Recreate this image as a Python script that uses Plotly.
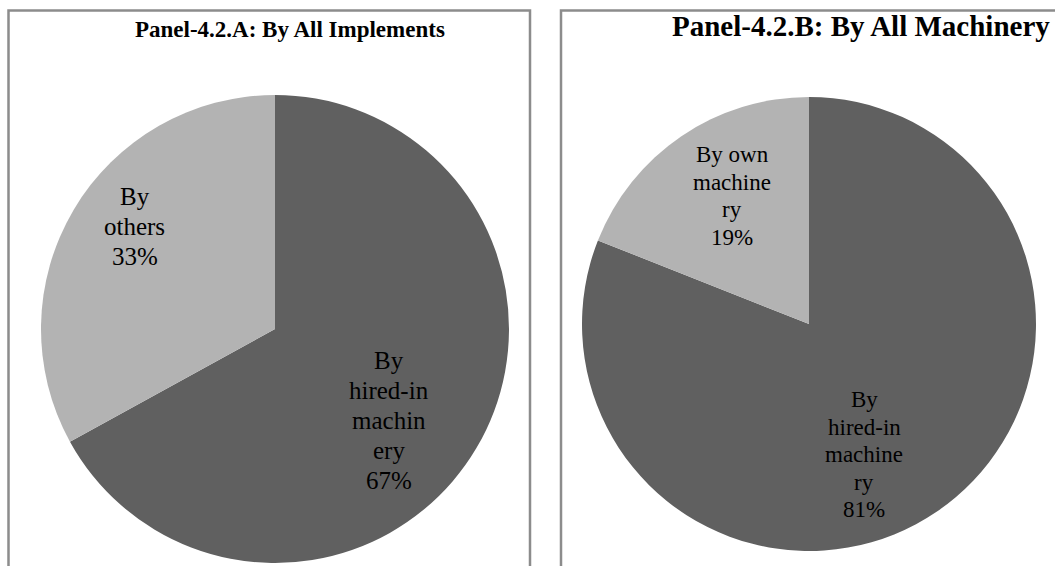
import math
import plotly.graph_objects as go

W, H = 1055, 566

# ---- data ----
panel_titles = ["Panel-4.2.A: By All Implements", "Panel-4.2.B: By All Machinery"]
labels_a = ["By<br>hired-in<br>machin<br>ery", "By<br>others"]
values_a = [67, 33]
labels_b = ["By<br>hired-in<br>machine<br>ry", "By own<br>machine<br>ry"]
values_b = [81, 19]

colors = ["#606060", "#b3b3b3"]
FONT = "Liberation Serif"

# ---- layout params (pixels) ----
pie_boxes = [  # x0, x1, ytop, ybottom in pixels
    (41, 509, 95, 563),
    (582, 1036, 97, 551),
]
label_frac = [[0.626, 0.743], [0.626, 0.658]]
label_shift = [[8.3, 5.7], [11.4, 3.2]]
label_size = [25, 23]
line_gap = [30, 27.5]

fig = go.Figure()
annotations = []
for k, (labs, vals) in enumerate([(labels_a, values_a), (labels_b, values_b)]):
    x0, x1, yt, yb = pie_boxes[k]
    fig.add_trace(go.Pie(
        labels=[l.replace("<br>", " ") for l in labs], values=vals,
        sort=False, direction="clockwise", rotation=0,
        marker=dict(colors=colors, line=dict(width=0)),
        textinfo="none", hoverinfo="label+percent", showlegend=False,
        domain=dict(x=[x0 / W, x1 / W], y=[1 - yb / H, 1 - yt / H]),
    ))
    cx, cy = (x0 + x1) / 2, (yt + yb) / 2
    r = min(x1 - x0, yb - yt) / 2
    total = sum(vals)
    cum = 0
    for i, (l, v) in enumerate(zip(labs, vals)):
        a = math.radians((cum + v / 2) / total * 360 + label_shift[k][i])
        cum += v
        px = cx + label_frac[k][i] * r * math.sin(a)
        py = cy - label_frac[k][i] * r * math.cos(a)
        pct = round(v / total * 100)
        lines = l.split("<br>") + [f"{pct}%"]
        n = len(lines)
        for j, line in enumerate(lines):
            ly = py + (j - (n - 1) / 2) * line_gap[k]
            annotations.append(dict(
                x=px / W, y=1 - ly / H, xref="paper", yref="paper",
                text=line, showarrow=False,
                xanchor="center", yanchor="middle", align="center",
                font=dict(family=FONT, size=label_size[k], color="black"),
            ))

annotations.append(dict(x=290 / W, y=1 - 29 / H, xref="paper", yref="paper",
                        text=f"<b>{panel_titles[0]}</b>", showarrow=False,
                        xanchor="center", yanchor="middle",
                        font=dict(family=FONT, size=23, color="black")))
annotations.append(dict(x=861 / W, y=1 - 26 / H, xref="paper", yref="paper",
                        text=f"<b>{panel_titles[1]}</b>", showarrow=False,
                        xanchor="center", yanchor="middle",
                        font=dict(family=FONT, size=29, color="black")))

shapes = [
    dict(type="rect", xref="paper", yref="paper", x0=8.5 / W, x1=530 / W,
         y0=-0.05, y1=1 - 10.5 / H, line=dict(color="#8c8c8c", width=2.5)),
    dict(type="rect", xref="paper", yref="paper", x0=561 / W, x1=1.05,
         y0=-0.05, y1=1 - 10.5 / H, line=dict(color="#8c8c8c", width=2.5)),
]

fig.update_layout(
    width=W, height=H, margin=dict(l=0, r=0, t=0, b=0),
    paper_bgcolor="white", plot_bgcolor="white",
    annotations=annotations, shapes=shapes,
)
fig.write_html("out.html")
